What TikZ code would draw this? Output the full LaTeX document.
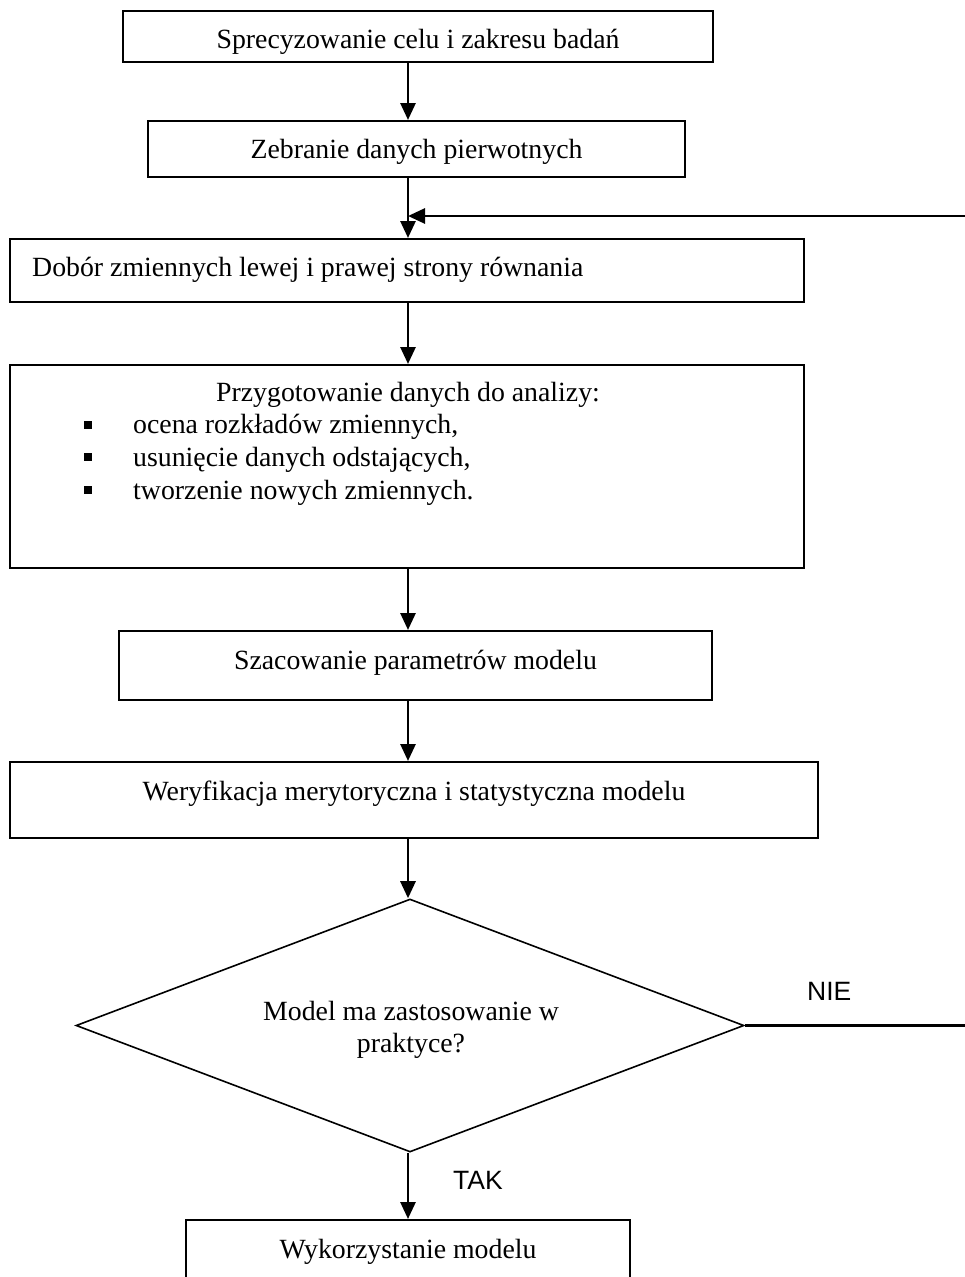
\documentclass[tikz,border=0pt]{standalone}
\usepackage{fontspec}
\setmainfont{Liberation Serif}
\newfontfamily\sansf{Liberation Sans}
\usetikzlibrary{arrows.meta,shapes.geometric}
\tikzset{
  box/.style={draw=black, line width=2pt, rectangle, inner sep=0pt, fill=none},
  dec/.style={draw=black, line width=1.6pt, shape=diamond, inner sep=0pt, minimum width=668pt, minimum height=253pt},
  txt/.style={inner sep=0pt, anchor=base, font=\fontsize{27.8}{33}\selectfont},
  ltxt/.style={txt, anchor=base west},
  lab/.style={inner sep=0pt, anchor=base, font=\sansf\fontsize{26.5}{30}\selectfont},
  bul/.style={fill=black, inner sep=0pt, minimum size=7.5pt, rectangle},
  conn/.style={line width=2.8pt, draw=black},
  arr/.style={conn, -{Triangle[length=17pt,width=15pt]}},
}
\begin{document}
\begin{tikzpicture}[x=1pt,y=-1pt]
\useasboundingbox (0,0) rectangle (965,1277);
\clip (0,0) rectangle (965,1277);
\fill[white] (0,0) rectangle (965,1277);
\coordinate (axis) at (408,0);
\coordinate (fbr) at (985,0);
\coordinate (fbin) at (408,216);
% boxes
\node[box, minimum width=590pt, minimum height=51pt] (b1) at (418,36.5) {};
\node[box, minimum width=537pt, minimum height=56pt] (b2) at (416.5,149) {};
\node[box, minimum width=794pt, minimum height=63pt] (b3) at (407,270.5) {};
\node[box, minimum width=794pt, minimum height=203pt] (b4) at (407,466.5) {};
\node[box, minimum width=593pt, minimum height=69pt] (b5) at (415.5,665.5) {};
\node[box, minimum width=808pt, minimum height=76pt] (b6) at (414,800) {};
\node[dec] (dia) at (410,1025.5) {};
\node[box, minimum width=444pt, minimum height=80pt] (b7) at (408,1260) {};
% texts
\node[txt] (t1) at (418,48.5) {Sprecyzowanie celu i zakresu badań};
\node[txt] (t2) at (416.5,158) {Zebranie danych pierwotnych};
\node[ltxt] (t3) at (32,276.7) {Dobór zmiennych lewej i prawej strony równania};
\node[txt] (t4) at (408,401.7) {Przygotowanie danych do analizy:};
\node[bul] (u1) at (88,425) {};
\node[ltxt] (i1) at (133,433.5) {ocena rozkładów zmiennych,};
\node[bul] (u2) at (88,457) {};
\node[ltxt] (i2) at (133,466.5) {usunięcie danych odstających,};
\node[bul] (u3) at (88,490) {};
\node[ltxt] (i3) at (133,499.5) {tworzenie nowych zmiennych.};
\node[txt] (t5) at (415.5,669) {Szacowanie parametrów modelu};
\node[txt] (t6) at (414,800) {Weryfikacja merytoryczna i statystyczna modelu};
\node[txt] (d1) at (411,1020) {Model ma zastosowanie w};
\node[txt] (d2) at (411,1052) {praktyce?};
\node[txt] (t7) at (408,1258) {Wykorzystanie modelu};
\node[lab, anchor=base west] (nie) at (807,1000) {NIE};
\node[lab] (tak) at (478,1189) {TAK};
% connectors
\draw[arr] (b1.south -| axis) -- (b2.north -| axis);
\draw[arr] (b2.south -| axis) -- (b3.north -| axis);
\draw[arr] (b3.south -| axis) -- (b4.north -| axis);
\draw[arr] (b4.south -| axis) -- (b5.north -| axis);
\draw[arr] (b5.south -| axis) -- (b6.north -| axis);
\draw[arr] (b6.south -| axis) -- (dia.north -| axis);
\draw[arr] (dia.south -| axis) -- (b7.north -| axis);
\draw[arr] (dia.east) -- (dia.east -| fbr) |- (fbin);
\end{tikzpicture}
\end{document}
